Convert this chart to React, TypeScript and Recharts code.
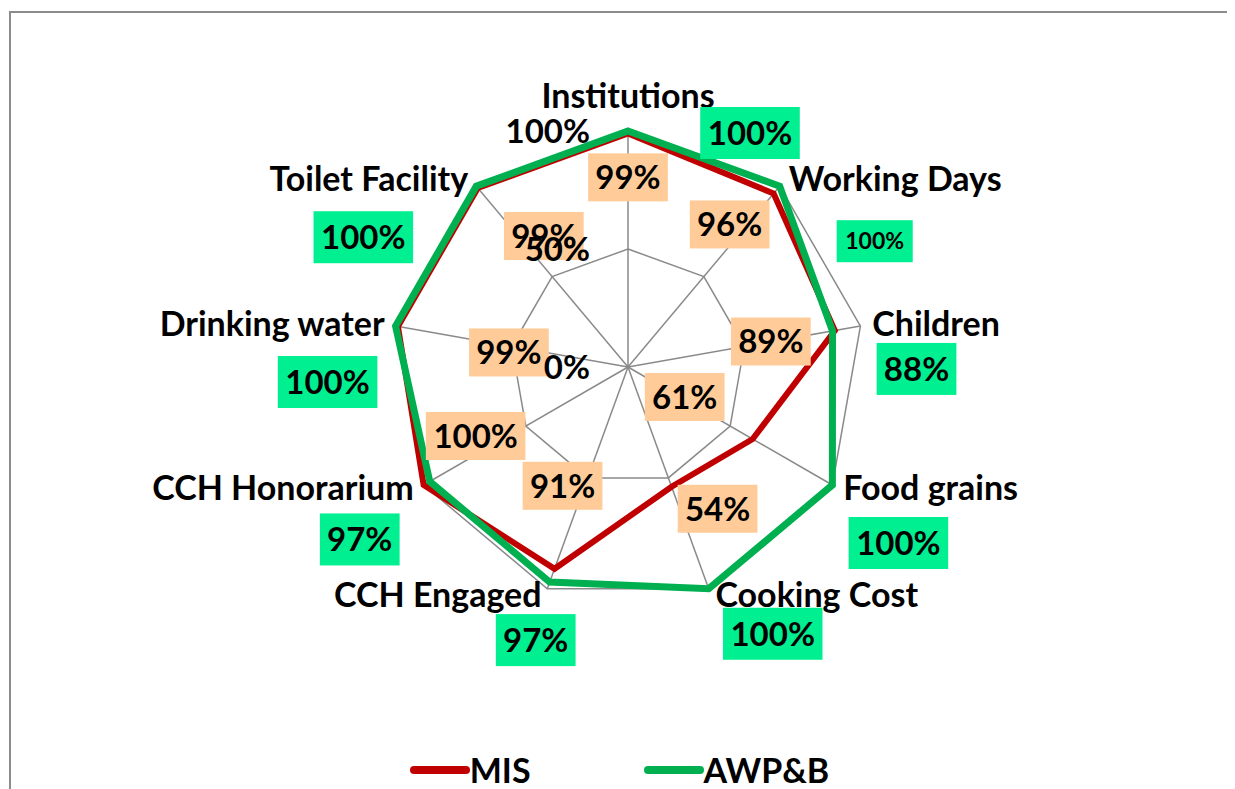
import { RadarChart, Radar, PolarGrid, PolarAngleAxis, PolarRadiusAxis, Legend } from 'recharts'

const categories = [
  'Institutions',
  'Working Days',
  'Children',
  'Food grains',
  'Cooking Cost',
  'CCH Engaged',
  'CCH Honorarium',
  'Drinking water',
  'Toilet Facility',
]
const seriesNames = ['MIS', 'AWP&B']
const misValues = [99, 96, 89, 61, 54, 91, 100, 99, 99]
const awpbValues = [100, 100, 88, 100, 100, 97, 97, 100, 100]
const radiusDomain = [0, 100]

const data = categories.map((name, i) => ({ name, mis: misValues[i], awpb: awpbValues[i] }))

// labels were dragged around by hand in the original, so keep their nudges here
const MIS_LABEL_NUDGE = [[0, 44], [-44, 31], [-64, 11], [-68, -42], [46, 22], [8, -83], [52, -49], [111, 26], [66, 48]]
const AWPB_LABEL_NUDGE = [[122, 2], [95, 55], [84, 38], [66, 58], [64, 45], [-14, 58], [-70, 58], [-68, 56], [-113, 51]]
const AWPB_LABEL_SIZE = [33, 23, 33, 33, 33, 33, 33, 33, 33]

const FONT = 'Lato, "Noto Sans", sans-serif'
const RED = '#C00000'
const GREEN = '#00B050'

function makeLabel(nudge: number[][], fill: string, sizes: number[] | null, extraH: number) {
  return (props: any) => {
    const { index, value } = props
    const vb = props.viewBox ?? {}
    const px = vb.x ?? props.x
    const py = vb.y ?? props.y
    if (px == null || index == null) return null
    const [dx, dy] = nudge[index]
    const fs = sizes ? sizes[index] : 33
    const text = `${value}%`
    const digits = String(value).length
    const w = digits * 0.6 * fs + 0.55 * fs + 22
    const h = fs + extraH
    const cx = px + dx
    const cy = py + dy
    return (
      <g>
        <rect x={cx - w / 2} y={cy - h / 2} width={w} height={h} fill={fill} />
        <text x={cx} y={cy} dy="0.36em" textAnchor="middle" fontFamily={FONT} fontWeight={700} fontSize={fs} fill="#000">
          {text}
        </text>
      </g>
    )
  }
}

function AngleTick({ x, y, textAnchor, payload }: any) {
  const top = textAnchor === 'middle'
  const dx = textAnchor === 'start' ? 4 : textAnchor === 'end' ? -3 : 0
  return (
    <text x={x + dx} y={top ? y - 27 : y - 1} dy="0.35em" textAnchor={textAnchor} fontFamily={FONT} fontWeight={700} fontSize={34} fill="#000">
      {payload.value}
    </text>
  )
}

function RadiusTick({ x, y, payload }: any) {
  return (
    <text x={x - 38} y={y} dy="0.35em" textAnchor="end" fontFamily={FONT} fontWeight={700} fontSize={33} fill="#000">
      {payload.value}%
    </text>
  )
}

function LegendContent({ payload }: any) {
  const items = [...(payload ?? [])].sort((a: any, b: any) => seriesNames.indexOf(a.value) - seriesNames.indexOf(b.value))
  return (
    <div style={{ display: 'flex', justifyContent: 'center', alignItems: 'center', gap: 113, paddingRight: 4 }}>
      {items.map((p: any) => (
        <div key={p.value} style={{ display: 'flex', alignItems: 'center' }}>
          <svg width={60} height={10}>
            <line x1={4} y1={5} x2={56} y2={5} stroke={p.color} strokeWidth={8} strokeLinecap="round" />
          </svg>
          <span style={{ fontFamily: FONT, fontWeight: 700, fontSize: 34, color: '#000', lineHeight: '40px' }}>{p.value}</span>
        </div>
      ))}
    </div>
  )
}

export default function App() {
  return (
    <div style={{ position: 'relative', width: 1227, height: 781, overflow: 'hidden', background: '#fff' }}>
      <div style={{ position: 'absolute', left: 1, top: 3, width: 1300, height: 900, border: '2px solid #8c8c8c' }} />
      <RadarChart width={1227} height={781} data={data} cx={620} cy={359} outerRadius={236} margin={{ top: 0, right: 0, bottom: 0, left: 0 }}>
        <PolarGrid gridType="polygon" stroke="#8a8a8a" strokeWidth={1.5} />
        <PolarAngleAxis dataKey="name" tick={<AngleTick />} tickLine={false} axisLine={false} />
        <Radar
          name={seriesNames[0]}
          dataKey="mis"
          stroke={RED}
          strokeWidth={6}
          fill="none"
          fillOpacity={0}
          dot={false}
          isAnimationActive={false}
          label={makeLabel(MIS_LABEL_NUDGE, '#FFCC99', null, 15)}
        />
        <Radar
          name={seriesNames[1]}
          dataKey="awpb"
          stroke={GREEN}
          strokeWidth={7}
          fill="none"
          fillOpacity={0}
          dot={false}
          isAnimationActive={false}
          label={makeLabel(AWPB_LABEL_NUDGE, '#00EF90', AWPB_LABEL_SIZE, 19)}
        />
        <PolarRadiusAxis
          {...({ zIndex: 3000 } as any)}
          angle={90}
          domain={radiusDomain}
          tickCount={3}
          tick={<RadiusTick />}
          axisLine={false}
          tickLine={false}
        />
        <Legend content={<LegendContent />} wrapperStyle={{ left: 0, top: 742, width: 1227 }} />
      </RadarChart>
    </div>
  )
}
